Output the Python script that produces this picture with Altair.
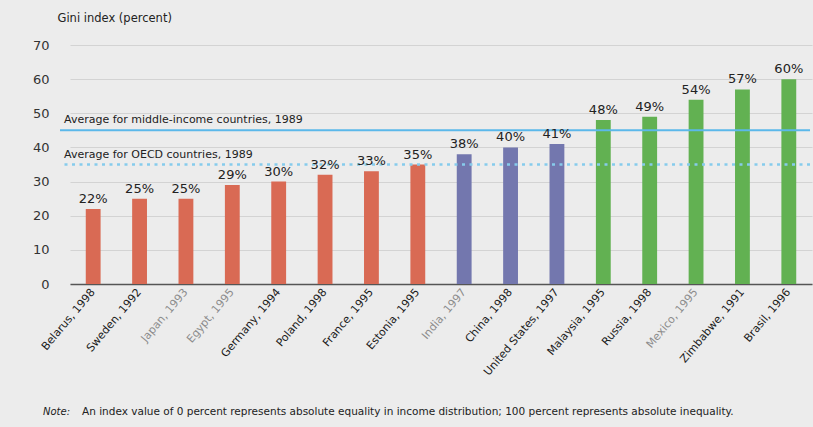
import altair as alt
import pandas as pd

# Gini index by country and survey year
countries = [
    "Belarus, 1998", "Sweden, 1992", "Japan, 1993", "Egypt, 1995",
    "Germany, 1994", "Poland, 1998", "France, 1995", "Estonia, 1995",
    "India, 1997", "China, 1998", "United States, 1997",
    "Malaysia, 1995", "Russia, 1998", "Mexico, 1995", "Zimbabwe, 1991",
    "Brasil, 1996",
]
gini = [22, 25, 25, 29, 30, 32, 33, 35, 38, 40, 41, 48, 49, 54, 57, 60]
groups = ["low"] * 8 + ["mid"] * 3 + ["high"] * 5
muted = ["Japan, 1993", "Egypt, 1995", "India, 1997", "Mexico, 1995"]
y_ticks = [0, 10, 20, 30, 40, 50, 60, 70]

# Reference averages (1989)
avg_labels = ["Average for middle-income countries, 1989",
              "Average for OECD countries, 1989"]
avg_values = [45, 35]

bars_df = pd.DataFrame({"country": countries, "gini": gini, "group": groups})
bars_df["label"] = bars_df["gini"].astype(str) + "%"
avg_df = pd.DataFrame({"name": avg_labels, "value": avg_values})

FONT = "DejaVu Sans"
W, H = 750, 239

muted_test = "indexof(" + str(muted) + ", datum.value) >= 0"

x_scale = alt.Scale(range=[10, W + 2], paddingInner=0.68, paddingOuter=0.34)
x_axis = alt.Axis(
    title=None, labelAngle=-50, labelAlign="right", labelBaseline="middle",
    labelFont=FONT, labelFontSize=11, ticks=False, labelPadding=6,
    domainColor="#555555", domainWidth=1.5, labelOverlap=False,
    labelColor={"condition": {"test": muted_test, "value": "#8c8c8c"},
                "value": "#1a1a1a"},
)
y_scale = alt.Scale(domain=[0, 70], nice=False)
y_axis = alt.Axis(
    values=y_ticks, tickCount=8, domain=False, ticks=False, labelOverlap=False,
    labelFont=FONT, labelFontSize=13, labelColor="#333333",
    labelPadding=11, gridColor="#d3d3d3", gridWidth=1,
    title="Gini index (percent)", titleAngle=0, titleAlign="left",
    titleBaseline="middle", titleX=-3, titleY=-27, titleFont=FONT,
    titleFontSize=11.5, titleFontWeight="normal", titleColor="#222222",
)


def xq():
    return alt.X("country:N", sort=countries, scale=x_scale, axis=x_axis)


def yq(field):
    return alt.Y(field, scale=y_scale, axis=y_axis)


base = alt.Chart(bars_df)

bars = base.mark_bar().encode(
    x=xq(),
    y=yq("gini:Q"),
    color=alt.Color(
        "group:N", legend=None,
        scale=alt.Scale(domain=["low", "mid", "high"],
                        range=["#d96a54", "#7377ae", "#62b152"]),
    ),
)

values_text = base.mark_text(
    baseline="bottom", dy=-3, font=FONT, fontSize=13, color="#222222"
).encode(x=xq(), y=yq("gini:Q"), text="label:N")

avg_base = alt.Chart(avg_df)
mid_line = avg_base.transform_filter(alt.datum.value == 45).mark_rule(
    color="#5bb8ea", strokeWidth=2
).encode(y=yq("value:Q"))
oecd_line = avg_base.transform_filter(alt.datum.value == 35).mark_rule(
    color="#86cbec", strokeWidth=2.5, strokeDash=[3, 4.5]
).encode(y=yq("value:Q"))
avg_text = avg_base.mark_text(
    align="left", baseline="bottom", dy=-5, font=FONT, fontSize=11,
    color="#222222"
).encode(x=alt.value(4), y=yq("value:Q"), text="name:N")

note_head = alt.Chart(pd.DataFrame({"t": ["Note:"]})).mark_text(
    align="left", baseline="middle", font=FONT, fontSize=10,
    fontStyle="italic", color="#222222"
).encode(x=alt.value(-17), y=alt.value(H + 128), text="t:N")
note_body = alt.Chart(pd.DataFrame({"t": [
    "An index value of 0 percent represents absolute equality in income "
    "distribution; 100 percent represents absolute inequality."
]})).mark_text(
    align="left", baseline="middle", font=FONT, fontSize=10.5,
    color="#222222"
).encode(x=alt.value(22), y=alt.value(H + 128), text="t:N")

chart = alt.layer(
    bars, mid_line, oecd_line, avg_text, values_text, note_head, note_body
).properties(
    width=W, height=H,
    autosize=alt.AutoSizeParams(type="none"),
    padding={"left": 60, "top": 45, "right": 3, "bottom": 143},
    background="#ececec",
).configure_view(stroke=None)

chart.save("out.html", embed_options={"renderer": "svg", "actions": False})
